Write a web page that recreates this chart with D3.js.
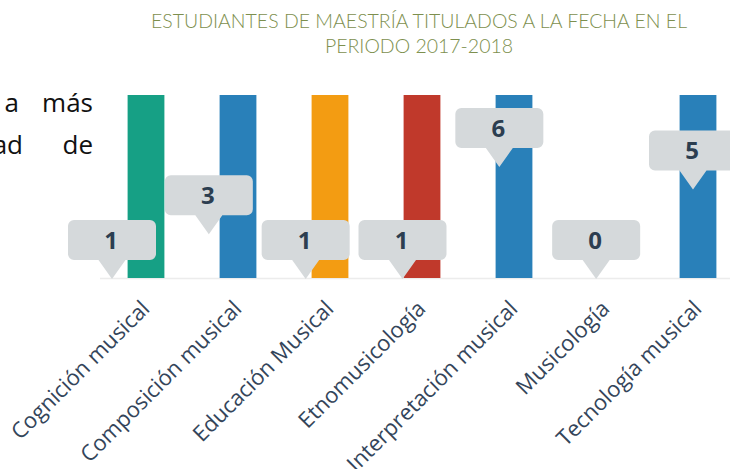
<!DOCTYPE html>
<html>
<head>
<meta charset="utf-8">
<script src="https://cdn.jsdelivr.net/npm/d3@7"></script>
<style>
  body { margin: 0; background: #fff; }
  svg { display: block; }
</style>
</head>
<body>
<svg id="chart"></svg>
<script>
const width = 730,
    height = 469

// data
const categories = ['Cognición musical', 'Composición musical', 'Educación Musical',
    'Etnomusicología', 'Interpretación musical', 'Musicología', 'Tecnología musical']
const values = [1, 3, 1, 1, 6, 0, 5]
const barColors = ['#16a085', '#2980b9', '#f39c12', '#c0392b', '#2980b9', '#8e44ad', '#2980b9']
const titleLines = ['ESTUDIANTES DE MAESTRÍA TITULADOS A LA FECHA EN EL', 'PERIODO 2017-2018']
// bits of the slide paragraph that peek out on the left
const sideWords = [['a', 'más'], ['ad', 'de']]

const data = categories.map((c, i) => ({ cat: c, value: values[i], color: barColors[i] }))

const svg = d3.select('#chart')
    .attr('width', width)
    .attr('height', height)

const baseY = 278

const x = d3.scaleBand()
    .domain(categories)
    .range([100, 744])
    .paddingInner(0.6)
    .paddingOuter(0.3)

// bars run off the top of the plot, so the scale is clamped
const y = d3.scaleLinear()
    .domain([0, 1])
    .range([baseY, 95])
    .clamp(true)

// callouts sit on their own (slightly shifted) scales
const xTip = d3.scalePoint()
    .domain(categories)
    .range([112, 693])
const yTip = d3.scaleLinear()
    .domain([1, 6])
    .range([279, 167])
    .clamp(true)

// left paragraph fragments
svg.append('g')
    .selectAll('g')
    .data(sideWords)
    .enter()
    .append('g')
    .each(function (d, i) {
        const g = d3.select(this)
        const by = 112 + i * 41.5
        g.append('text')
            .attr('x', i === 0 ? 19 : 23)
            .attr('y', by)
            .attr('text-anchor', 'end')
            .text(d[0])
        g.append('text')
            .attr('x', 93)
            .attr('y', by)
            .attr('text-anchor', 'end')
            .text(d[1])
    })
    .selectAll('text')
    .style('font-family', 'Open Sans, sans-serif')
    .style('font-size', '26px')
    .style('fill', '#111')

// title
svg.append('g')
    .selectAll('text')
    .data(titleLines)
    .enter()
    .append('text')
    .attr('x', 419)
    .attr('y', (d, i) => 27.5 + i * 25)
    .attr('text-anchor', 'middle')
    .style('font-family', 'Lato, sans-serif')
    .style('font-weight', 300)
    .style('font-size', '19.5px')
    .style('fill', '#7d8f4e')
    .text(d => d)

// baseline
svg.append('line')
    .attr('x1', 100)
    .attr('x2', width)
    .attr('y1', baseY + 0.5)
    .attr('y2', baseY + 0.5)
    .style('stroke', '#ececec')
    .style('stroke-width', 1.5)

// bars
svg.append('g')
    .selectAll('rect')
    .data(data)
    .enter()
    .append('rect')
    .attr('x', d => x(d.cat))
    .attr('y', d => y(d.value))
    .attr('width', x.bandwidth())
    .attr('height', d => baseY - y(d.value))
    .style('fill', d => d.color)

// category labels
svg.append('g')
    .selectAll('text')
    .data(data)
    .enter()
    .append('text')
    .attr('transform', d => `translate(${x(d.cat) + x.bandwidth() / 2 + 5},310) rotate(-45)`)
    .attr('text-anchor', 'end')
    .style('font-family', 'Open Sans, sans-serif')
    .style('font-size', '22px')
    .style('fill', '#34455a')
    .text(d => d.cat)

// callout bubbles
const boxW = 88, boxH = 40, tipH = 19, tipW = 27, r = 6
const bubblePath = () => {
    const p = d3.path()
    const top = -tipH - boxH, bot = -tipH
    p.moveTo(-boxW / 2 + r, top)
    p.lineTo(boxW / 2 - r, top)
    p.arcTo(boxW / 2, top, boxW / 2, top + r, r)
    p.lineTo(boxW / 2, bot - r)
    p.arcTo(boxW / 2, bot, boxW / 2 - r, bot, r)
    p.lineTo(tipW / 2, bot)
    p.lineTo(0, 0)
    p.lineTo(-tipW / 2, bot)
    p.lineTo(-boxW / 2 + r, bot)
    p.arcTo(-boxW / 2, bot, -boxW / 2, bot - r, r)
    p.lineTo(-boxW / 2, top + r)
    p.arcTo(-boxW / 2, top, -boxW / 2 + r, top, r)
    p.closePath()
    return p.toString()
}

const bubbles = svg.append('g')
    .selectAll('g')
    .data(data)
    .enter()
    .append('g')
    .attr('transform', d => `translate(${xTip(d.cat)},${yTip(d.value)})`)

bubbles.append('path')
    .attr('d', bubblePath)
    .style('fill', '#d5d9db')

bubbles.append('text')
    .attr('x', -1)
    .attr('y', -tipH - boxH / 2)
    .attr('dy', '0.36em')
    .attr('text-anchor', 'middle')
    .style('font-family', 'Open Sans, sans-serif')
    .style('font-weight', 700)
    .style('font-size', '24px')
    .style('fill', '#2c3e50')
    .text(d => d.value)
</script>
</body>
</html>
